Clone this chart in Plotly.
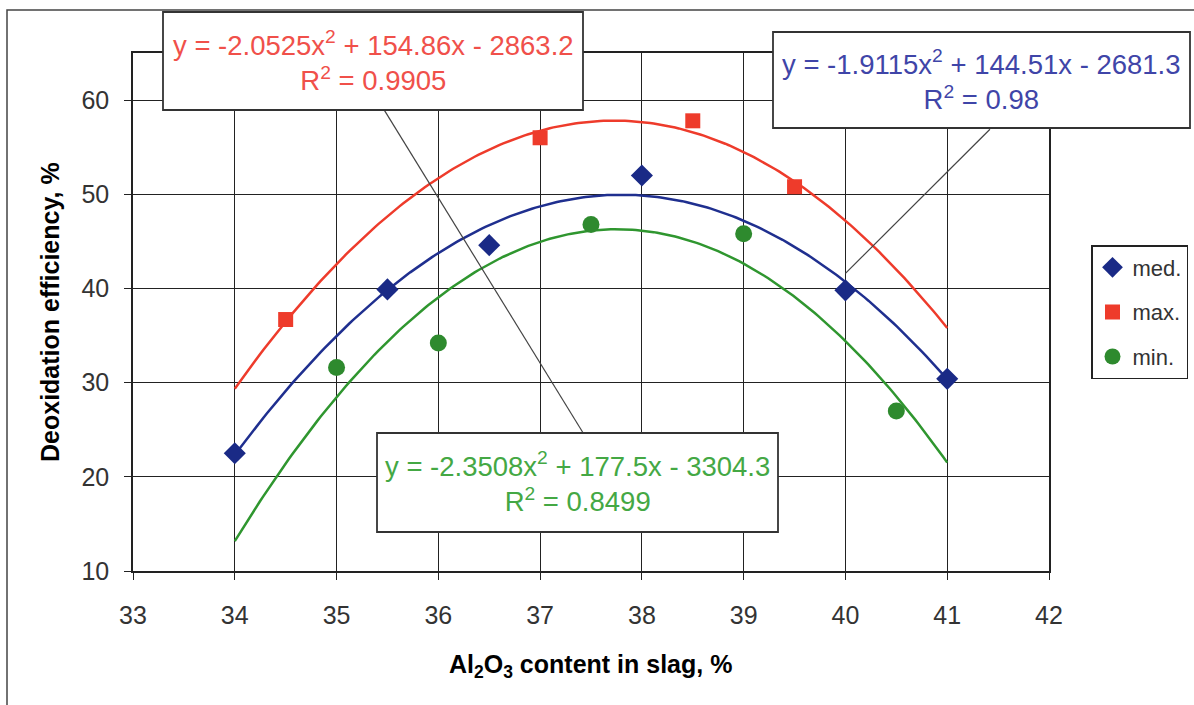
import numpy as np
import plotly.graph_objects as go

# ---- data ----
med_x = [34, 35.5, 36.5, 38, 40, 41]
med_y = [22.5, 39.9, 44.6, 52.0, 39.8, 30.4]
max_x = [34.5, 37, 38.5, 39.5]
max_y = [36.7, 56.0, 57.8, 50.8]
min_x = [35, 36, 37.5, 39, 40.5]
min_y = [31.6, 34.2, 46.8, 45.8, 27.0]

# trendline coefficients as printed on the chart (a, b, c) and R^2
med_coef = [-1.9115, 144.51, -2681.3]
max_coef = [-2.0525, 154.86, -2863.2]
min_coef = [-2.3508, 177.5, -3304.3]
med_r2, max_r2, min_r2 = "0.98", "0.9905", "0.8499"
trend_range = [34, 41]

x_ticks = [33, 34, 35, 36, 37, 38, 39, 40, 41, 42]
y_ticks = [10, 20, 30, 40, 50, 60]

RED = "#ee3b2b"
BLUE = "#1f2f8f"
GREEN = "#2f962f"
RED_T = "#f0504a"
BLUE_T = "#3f45a8"
GREEN_T = "#44a844"
FONT = "Liberation Sans, Arial"

fig = go.Figure()
xs = np.linspace(trend_range[0], trend_range[1], 200)
for coef, col in [(max_coef, RED), (med_coef, BLUE), (min_coef, GREEN)]:
    fig.add_trace(go.Scatter(x=xs, y=np.polyval(coef, xs), mode="lines",
                             line=dict(color=col, width=2.5), showlegend=False,
                             hoverinfo="skip"))

fig.add_trace(go.Scatter(x=med_x, y=med_y, mode="markers", name="med.",
                         legendgroup="a",
                         marker=dict(symbol="diamond", size=17, color="#1a2a86")))
fig.add_trace(go.Scatter(x=max_x, y=max_y, mode="markers", name="max.",
                         legendgroup="b",
                         marker=dict(symbol="square", size=15, color=RED)))
fig.add_trace(go.Scatter(x=min_x, y=min_y, mode="markers", name="min.",
                         legendgroup="c",
                         marker=dict(symbol="circle", size=17, color="#2e8a2e")))

L, R, T, B = 133, 145, 53, 134
W, H = 1194, 705
pw, ph = W - L - R, H - T - B


def px(x):
    return (x - L) / pw


def py(y):
    return (H - B - y) / ph


shapes = []
# outer chart frame
shapes.append(dict(type="rect", xref="paper", yref="paper",
                   x0=px(7), x1=px(1300), y0=py(800), y1=py(10),
                   line=dict(color="#444", width=1.5), layer="below"))
# leader lines (data coordinates)
shapes.append(dict(type="line", xref="x", yref="y", x0=35.46, y0=59.1,
                   x1=37.42, y1=24.7, line=dict(color="#444", width=1.2), layer="above"))
shapes.append(dict(type="line", xref="x", yref="y", x0=41.42, y0=56.9,
                   x1=40.0, y1=41.6, line=dict(color="#444", width=1.2), layer="above"))
# label boxes (pixel positions)
for (x0, x1, y0, y1) in [(163, 583, 12, 110), (773, 1190, 32, 128), (377, 778, 433, 532)]:
    shapes.append(dict(type="rect", xref="paper", yref="paper",
                       x0=px(x0), x1=px(x1), y0=py(y1), y1=py(y0),
                       fillcolor="white", line=dict(color="#333", width=1.8), layer="above"))


def eq_text(c, r2):
    a, b, k = c
    return (f"y = {a}x<sup>2</sup> + {b}x - {abs(k)}<br>R<sup>2</sup> = {r2}")


annotations = []
for c, r2, col, cx, cy in [(max_coef, max_r2, RED_T, 373, 61),
                           (med_coef, med_r2, BLUE_T, 981, 80),
                           (min_coef, min_r2, GREEN_T, 577, 482)]:
    annotations.append(dict(text=eq_text(c, r2), xref="paper", yref="paper",
                            x=px(cx), y=py(cy), showarrow=False, align="center",
                            xanchor="center", yanchor="middle",
                            font=dict(family=FONT, size=27.5, color=col)))

annotations.append(dict(text="Deoxidation efficiency, %", xref="paper", yref="paper",
                        x=px(50), y=py(312), textangle=-90, showarrow=False,
                        xanchor="center", yanchor="middle",
                        font=dict(family=FONT, size=25, color="black", weight="bold")))
annotations.append(dict(text="Al<sub>2</sub>O<sub>3</sub> content in slag, %",
                        xref="paper", yref="paper", x=px(590), y=py(666),
                        showarrow=False, xanchor="center", yanchor="middle",
                        font=dict(family=FONT, size=25, color="black", weight="bold")))

axis_common = dict(showgrid=True, gridcolor="#222", gridwidth=1.3,
                   showline=True, linecolor="#222", linewidth=1.5, mirror=True,
                   ticks="outside", ticklen=7, tickcolor="#222", zeroline=False,
                   tickfont=dict(family=FONT, size=25, color="#333"))

fig.update_layout(
    width=W, height=H,
    margin=dict(l=L, r=R, t=T, b=B, autoexpand=False),
    paper_bgcolor="white", plot_bgcolor="white",
    xaxis=dict(range=[33, 42], tickvals=x_ticks, ticklabelstandoff=14, **axis_common),
    yaxis=dict(range=[10, 65], tickvals=y_ticks, ticklabelstandoff=10, **axis_common),
    shapes=shapes, annotations=annotations,
    legend=dict(x=px(1091), y=py(245), xanchor="left", yanchor="top",
                bordercolor="#222", borderwidth=1.5, bgcolor="white",
                traceorder="grouped", tracegroupgap=13, itemwidth=30,
                font=dict(family=FONT, size=22, color="#333")),
    showlegend=True,
)

fig.write_html("out.html", post_script="document.body.style.margin='0';",
               config={"displayModeBar": False})
